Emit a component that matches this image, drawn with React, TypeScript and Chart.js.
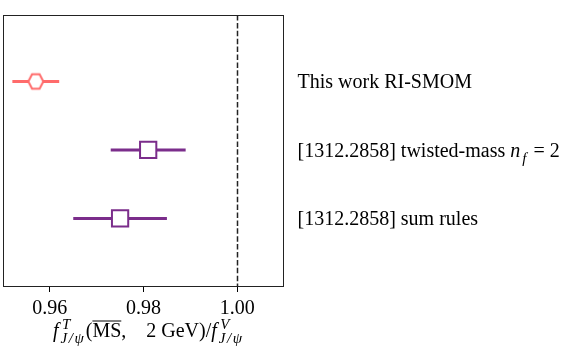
import React, { useEffect, useRef } from "react";
import { Chart, registerables } from "chart.js";
Chart.register(...registerables);

const CATEGORIES = ["This work RI-SMOM", "[1312.2858] twisted-mass n_f = 2", "[1312.2858] sum rules"];
const CENTRAL = [0.957, 0.981, 0.975];
const ERRORS = [0.005, 0.008, 0.01];
const X_TICKS = [0.96, 0.98, 1.0];
const REFERENCE = 1.0;
const COLORS = ["#ff6b6b", "#7b2d8b", "#7b2d8b"];
const MARKERS = ["hexagon", "square", "square"];

const FONT = '"Liberation Serif", "Times New Roman", serif';
const FS = 20;
const SS = 15;

type Seg = { t?: string; it?: boolean; sup?: string; sub?: string; ov?: boolean };

const AXIS_TITLE: Seg[] = [
  { t: "f", it: true },
  { sup: "T", sub: "J/ψ" },
  { t: "(" },
  { t: "MS", ov: true },
  { t: ",\u2002  2 GeV)/" },
  { t: "f", it: true },
  { sup: "V", sub: "J/ψ" },
];

function parseLabel(s: string): Seg[] {
  const out: Seg[] = [];
  const re = /(\w)_(\w)/g;
  let last = 0;
  let m: RegExpExecArray | null;
  while ((m = re.exec(s))) {
    if (m.index > last) out.push({ t: s.slice(last, m.index) });
    out.push({ t: m[1], it: true });
    out.push({ sub: m[2] });
    last = m.index + m[0].length;
  }
  if (last < s.length) out.push({ t: s.slice(last) });
  return out;
}

function fontOf(it: boolean, size: number) {
  return `${it ? "italic " : ""}${size}px ${FONT}`;
}

function scriptWidth(ctx: CanvasRenderingContext2D, s: string) {
  ctx.font = fontOf(true, SS);
  return ctx.measureText(s).width + (s.length - 1) * 1.5;
}

function drawScript(ctx: CanvasRenderingContext2D, s: string, x: number, y: number) {
  ctx.font = fontOf(true, SS);
  let cx = x;
  for (const ch of s) {
    ctx.fillText(ch, cx, y);
    cx += ctx.measureText(ch).width + 1.5;
  }
}

function segWidth(ctx: CanvasRenderingContext2D, s: Seg) {
  if (s.t !== undefined) {
    ctx.font = fontOf(!!s.it, FS);
    return ctx.measureText(s.t).width + (s.it ? 2 : 0);
  }
  const a = s.sup ? scriptWidth(ctx, s.sup) + 1.5 : 0;
  const b = s.sub ? scriptWidth(ctx, s.sub) : 0;
  return Math.max(a, b) + 2;
}

function drawRich(ctx: CanvasRenderingContext2D, segs: Seg[], x: number, y: number, align: "left" | "center") {
  const widths = segs.map((s) => segWidth(ctx, s));
  const total = widths.reduce((a, b) => a + b, 0);
  let cx = align === "center" ? x - total / 2 : x;
  ctx.save();
  ctx.fillStyle = "#000";
  ctx.strokeStyle = "#000";
  ctx.textAlign = "left";
  ctx.textBaseline = "alphabetic";
  segs.forEach((s, i) => {
    if (s.t !== undefined) {
      ctx.font = fontOf(!!s.it, FS);
      ctx.fillText(s.t, cx, y);
      if (s.ov) {
        ctx.lineWidth = 1;
        ctx.beginPath();
        ctx.moveTo(cx, y - FS * 0.8);
        ctx.lineTo(cx + widths[i], y - FS * 0.8);
        ctx.stroke();
      }
    } else {
      if (s.sup) drawScript(ctx, s.sup, cx + 1.5, y - FS * 0.42);
      if (s.sub) drawScript(ctx, s.sub, cx, y + FS * 0.3);
    }
    cx += widths[i];
  });
  ctx.restore();
}

function makeHexagon(color: string) {
  const c = document.createElement("canvas");
  const r = 7.5;
  const size = 20;
  c.width = size;
  c.height = size;
  const g = c.getContext("2d")!;
  g.beginPath();
  for (let k = 0; k < 6; k++) {
    const a = (Math.PI / 3) * k;
    const px = size / 2 + r * Math.cos(a);
    const py = size / 2 + r * Math.sin(a) * 1.1;
    if (k === 0) g.moveTo(px, py);
    else g.lineTo(px, py);
  }
  g.closePath();
  g.fillStyle = "#fff";
  g.fill();
  g.lineWidth = 2;
  g.strokeStyle = color;
  g.stroke();
  return c;
}

export default function App() {
  const ref = useRef<HTMLCanvasElement | null>(null);
  useEffect(() => {
    if (!ref.current) return;
    const styles = MARKERS.map((m, i) => (m === "hexagon" ? makeHexagon(COLORS[i]) : "rect"));
    const deco = {
      id: "deco",
      beforeDatasetsDraw(chart: any) {
        const { ctx, chartArea } = chart;
        const xs = chart.scales.x;
        const ys = chart.scales.y;
        ctx.save();
        const rx = Math.round(xs.getPixelForValue(REFERENCE)) + 0.5;
        ctx.strokeStyle = "#222";
        ctx.lineWidth = 1.5;
        ctx.setLineDash([5.5, 2.4]);
        ctx.beginPath();
        ctx.moveTo(rx, chartArea.top);
        ctx.lineTo(rx, chartArea.bottom);
        ctx.stroke();
        ctx.setLineDash([]);
        CENTRAL.forEach((v, i) => {
          const y = ys.getPixelForValue(i);
          ctx.strokeStyle = COLORS[i];
          ctx.lineWidth = 3;
          ctx.beginPath();
          ctx.moveTo(xs.getPixelForValue(v - ERRORS[i]), y);
          ctx.lineTo(xs.getPixelForValue(v + ERRORS[i]), y);
          ctx.stroke();
        });
        ctx.restore();
      },
      afterDraw(chart: any) {
        const { ctx, chartArea } = chart;
        const ys = chart.scales.y;
        ctx.save();
        ctx.strokeStyle = "#222";
        ctx.lineWidth = 1;
        ctx.strokeRect(chartArea.left + 0.5, chartArea.top + 0.5, chartArea.right - chartArea.left - 1, chartArea.bottom - chartArea.top - 1);
        ctx.restore();
        CATEGORIES.forEach((c, i) => {
          const y = ys.getPixelForValue(i);
          drawRich(ctx, parseLabel(c), chartArea.right + 13.5, y + FS * 0.33, "left");
        });
        drawRich(ctx, AXIS_TITLE, (chartArea.left + chartArea.right) / 2 + 5, 337, "center");
      },
    };
    const chart = new Chart(ref.current, {
      type: "scatter",
      data: {
        datasets: [
          {
            data: CENTRAL.map((v, i) => ({ x: v, y: i })),
            pointStyle: styles as any,
            pointRadius: MARKERS.map((m) => (m === "hexagon" ? 7.5 : 11.5)),
            pointBackgroundColor: "#fff",
            pointBorderColor: COLORS,
            pointBorderWidth: 2,
          },
        ],
      },
      options: {
        animation: false,
        responsive: false,
        layout: { autoPadding: false, padding: { left: 3, top: 15, right: 278, bottom: 0 } },
        plugins: { legend: { display: false }, tooltip: { enabled: false } },
        scales: {
          x: {
            type: "linear",
            min: 0.95,
            max: 1.01,
            afterBuildTicks: (s: any) => {
              s.ticks = X_TICKS.map((v) => ({ value: v }));
            },
            afterFit: (s: any) => {
              s.height = 67;
              s.paddingLeft = 0;
              s.paddingRight = 0;
            },
            border: { display: false },
            grid: { display: true, drawOnChartArea: false, drawTicks: true, tickLength: 5, tickColor: "#000", tickWidth: 1 },
            ticks: {
              color: "#000",
              padding: 5,
              font: { family: FONT, size: FS },
              callback: (v: any) => Number(v).toFixed(2),
            },
          },
          y: {
            type: "linear",
            min: -0.97,
            max: 3,
            reverse: true,
            display: false,
          },
        },
      },
      plugins: [deco],
    });
    return () => chart.destroy();
  }, []);
  return (
    <div style={{ position: "fixed", left: 0, top: 0, width: 562, height: 354, background: "#fff" }}>
      <canvas ref={ref} width={562} height={354} style={{ display: "block", width: 562, height: 354 }} />
    </div>
  );
}
